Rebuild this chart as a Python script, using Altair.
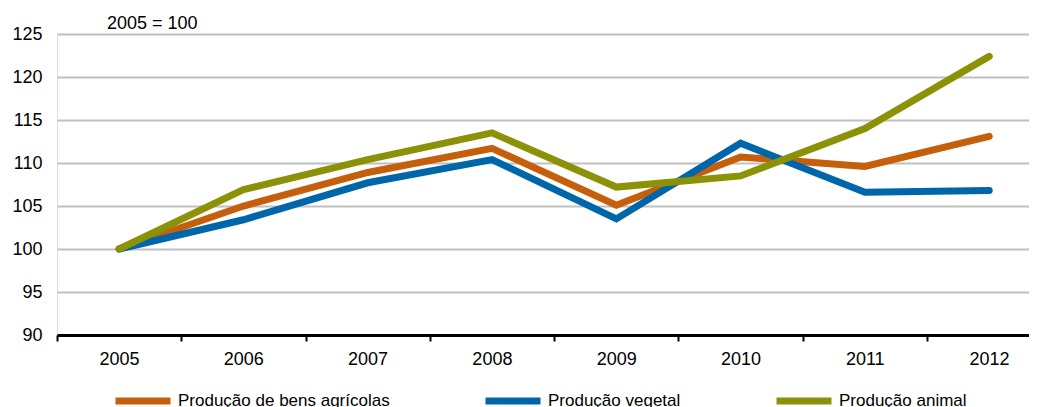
import altair as alt
import pandas as pd

years = [2005, 2006, 2007, 2008, 2009, 2010, 2011, 2012]
series_names = ["Produção de bens agrícolas", "Produção vegetal", "Produção animal"]
agricolas = [100.0, 105.0, 108.9, 111.7, 105.1, 110.7, 109.6, 113.1]
vegetal = [100.0, 103.4, 107.7, 110.4, 103.5, 112.3, 106.6, 106.8]
animal = [100.0, 106.9, 110.4, 113.5, 107.2, 108.5, 114.0, 122.4]
colors = ["#C55F0C", "#0066AA", "#8B9207"]
y_ticks = [90, 95, 100, 105, 110, 115, 120, 125]
x_tick_marks = [2004.5, 2005.5, 2006.5, 2007.5, 2008.5, 2009.5, 2010.5, 2011.5]

rows = []
for name, vals in zip(series_names, [agricolas, vegetal, animal]):
    for yr, v in zip(years, vals):
        rows.append({"ano": yr, "valor": v, "serie": name})
df = pd.DataFrame(rows)

FONT = "Liberation Sans"
W, H = 972, 301

x_scale = alt.Scale(domain=[2004.5, 2012.32], nice=False, zero=False)
y_scale = alt.Scale(domain=[90, 125], nice=False, zero=False)

lines = alt.Chart(df).mark_line(strokeWidth=7, strokeCap="round").encode(
    x=alt.X("ano:Q", scale=x_scale,
            axis=alt.Axis(values=x_tick_marks, title=None, grid=False,
                          labelExpr="format(datum.value + 0.5, 'd')",
                          labelOffset=62, labelFontSize=18, labelFont=FONT,
                          labelColor="black", labelPadding=9,
                          tickSize=6, tickWidth=2, tickColor="black",
                          domainColor="black", domainWidth=3,
                          labelFlush=False, labelOverlap=False)),
    y=alt.Y("valor:Q", scale=y_scale,
            axis=alt.Axis(values=y_ticks, title=None, grid=True,
                          gridColor="#c0c0c0", gridWidth=2,
                          domain=False, ticks=False, labelPadding=15,
                          labelFontSize=18, labelFont=FONT, labelColor="black")),
    color=alt.Color("serie:N",
                    scale=alt.Scale(domain=series_names, range=colors),
                    legend=alt.Legend(title=None, orient="none", legendX=55, legendY=336,
                                      direction="horizontal", columns=3,
                                      columnPadding=81,
                                      symbolType="stroke", symbolSize=3025,
                                      symbolStrokeWidth=7, labelOffset=4,
                                      labelFontSize=17, labelFont=FONT,
                                      labelColor="black", labelLimit=400)),
    order=alt.Order("ord:Q"),
).transform_calculate(
    ord="indexof(['Produção de bens agrícolas','Produção vegetal','Produção animal'], datum.serie)"
)

note = alt.Chart(pd.DataFrame({"t": ["2005 = 100"]})).mark_text(
    align="left", baseline="alphabetic", fontSize=18, font=FONT, color="black"
).encode(x=alt.value(50), y=alt.value(-5), text="t:N")

chart = alt.layer(lines, note).properties(
    width=W, height=H,
    autosize=alt.AutoSizeParams(type="none"),
    padding={"left": 49, "top": 26, "right": 0, "bottom": 72},
).configure_view(stroke=None).configure(background="white")

chart.save("out.html", embed_options={"renderer": "svg", "actions": False})
